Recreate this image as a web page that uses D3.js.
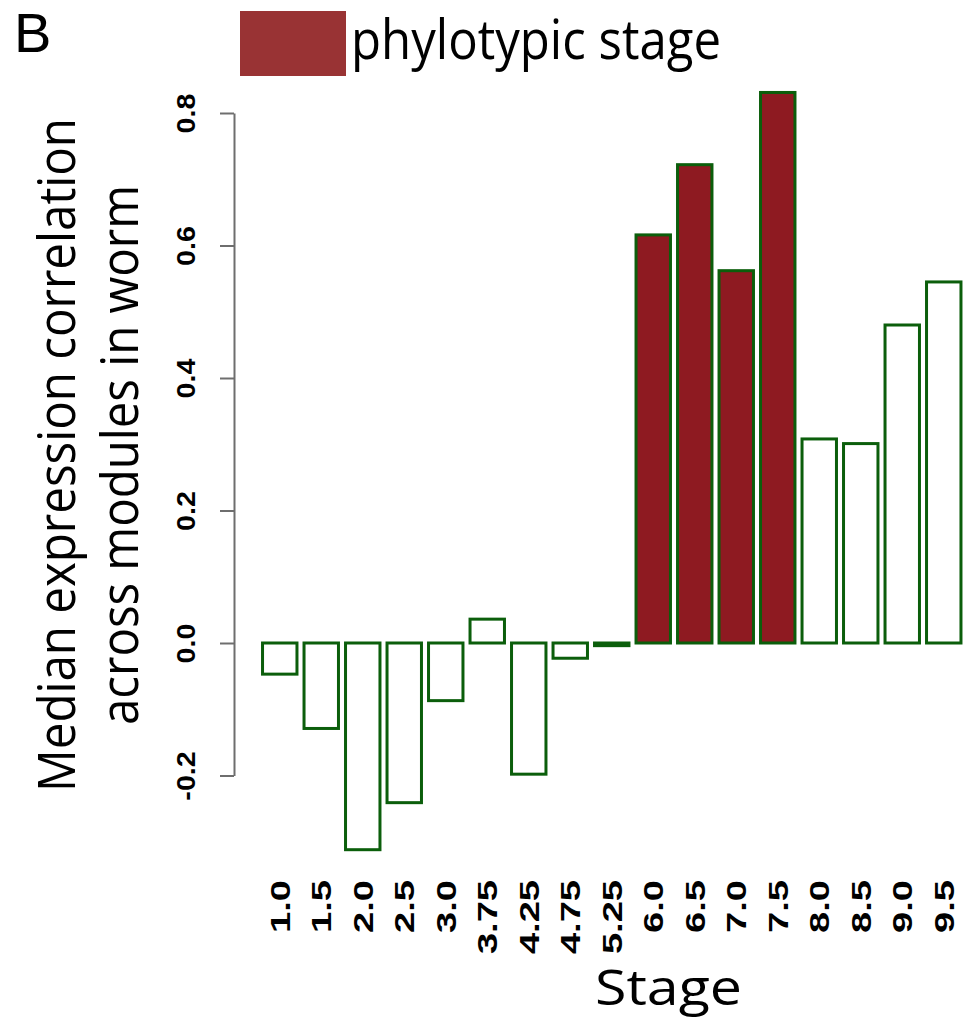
<!DOCTYPE html>
<html>
<head>
<meta charset="utf-8">
<script src="https://cdn.jsdelivr.net/npm/d3@7"></script>
<style>
  html, body { margin: 0; padding: 0; background: #fff; }
  svg { display: block; }
</style>
</head>
<body>
<svg id="chart" width="967" height="1034"></svg>
<script>
const stages = ["1.0","1.5","2.0","2.5","3.0","3.75","4.25","4.75","5.25","6.0","6.5","7.0","7.5","8.0","8.5","9.0","9.5"];
const values = [-0.047,-0.129,-0.312,-0.241,-0.087,0.036,-0.198,-0.023,-0.004,0.616,0.722,0.562,0.831,0.308,0.301,0.480,0.545];
const phylotypic = ["6.0","6.5","7.0","7.5"];
const yTicks = [-0.2,0.0,0.2,0.4,0.6,0.8];
const legendLabel = "phylotypic stage";
const panelLabel = "B";
const yTitle = ["Median expression correlation", "across modules in worm"];
const xTitle = "Stage";

const svg = d3.select("#chart");
const barStroke = "#0b5e0b";
const barFill = "#8e1a21";
const legendFill = "#993334";
const titleFont = "'Open Sans', 'Noto Sans', sans-serif";
const tickFont = "'Liberation Sans', Arial, sans-serif";

const x = d3.scaleBand()
  .domain(stages)
  .range([259, 964.5])
  .paddingInner(0.17)
  .paddingOuter(0.085);

const y = d3.scaleLinear()
  .domain([-0.2, 0.8])
  .range([775.5, 113]);

// bars
svg.append("g")
  .selectAll("rect")
  .data(stages.map((s, i) => ({ s, v: values[i] })))
  .join("rect")
  .attr("x", d => x(d.s))
  .attr("width", x.bandwidth())
  .attr("y", d => y(Math.max(0, d.v)))
  .attr("height", d => Math.abs(y(d.v) - y(0)))
  .attr("fill", d => phylotypic.includes(d.s) ? barFill : "#ffffff")
  .attr("stroke", barStroke)
  .attr("stroke-width", 3);

// y axis
const yAxis = d3.axisLeft(y)
  .tickValues(yTicks)
  .tickSize(14)
  .tickSizeOuter(0)
  .tickFormat(d => d.toFixed(1));

const gy = svg.append("g")
  .attr("transform", "translate(234,0)")
  .call(yAxis);
gy.select(".domain").attr("stroke", "#6e6e6e").attr("stroke-width", 2);
gy.selectAll(".tick line").attr("stroke", "#6e6e6e").attr("stroke-width", 2);
gy.selectAll(".tick text").remove();
gy.selectAll(".tick")
  .append("text")
  .attr("transform", "translate(-48,0) rotate(-90) scale(1.1,1)")
  .attr("text-anchor", "middle")
  .attr("dy", "0.36em")
  .attr("font-family", tickFont)
  .attr("font-weight", "bold")
  .attr("font-size", "26px")
  .attr("fill", "#000")
  .text(d => d.toFixed(1));

// x tick labels (no axis line)
svg.append("g")
  .selectAll("text")
  .data(stages)
  .join("text")
  .attr("transform", d => `translate(${x(d) + x.bandwidth() / 2},880) rotate(-90) scale(1.36,1)`)
  .attr("text-anchor", "end")
  .attr("dy", "0.36em")
  .style("font-family", tickFont)
  .style("font-weight", "bold")
  .style("font-size", "28px")
  .attr("fill", "#000")
  .text(d => d);

// y title
svg.append("text")
  .attr("transform", "translate(75,455) rotate(-90)")
  .attr("text-anchor", "middle")
  .style("font-family", titleFont)
  .style("font-size", "51px")
  .attr("textLength", 674)
  .attr("lengthAdjust", "spacingAndGlyphs")
  .text(yTitle[0]);
svg.append("text")
  .attr("transform", "translate(138,455) rotate(-90)")
  .attr("text-anchor", "middle")
  .style("font-family", titleFont)
  .style("font-size", "51px")
  .attr("textLength", 540)
  .attr("lengthAdjust", "spacingAndGlyphs")
  .text(yTitle[1]);

// x title
svg.append("text")
  .attr("x", 595)
  .attr("y", 1005)
  .style("font-family", titleFont)
  .style("font-size", "49px")
  .attr("textLength", 147)
  .attr("lengthAdjust", "spacingAndGlyphs")
  .text(xTitle);

// panel label
svg.append("text")
  .attr("x", 14)
  .attr("y", 52)
  .style("font-family", tickFont)
  .style("font-size", "56px")
  .text(panelLabel);

// legend
svg.append("rect")
  .attr("x", 240).attr("y", 11)
  .attr("width", 106).attr("height", 65)
  .attr("fill", legendFill);
svg.append("text")
  .attr("x", 351)
  .attr("y", 59)
  .style("font-family", titleFont)
  .style("font-size", "54px")
  .attr("textLength", 370)
  .attr("lengthAdjust", "spacingAndGlyphs")
  .text(legendLabel);
</script>
</body>
</html>
